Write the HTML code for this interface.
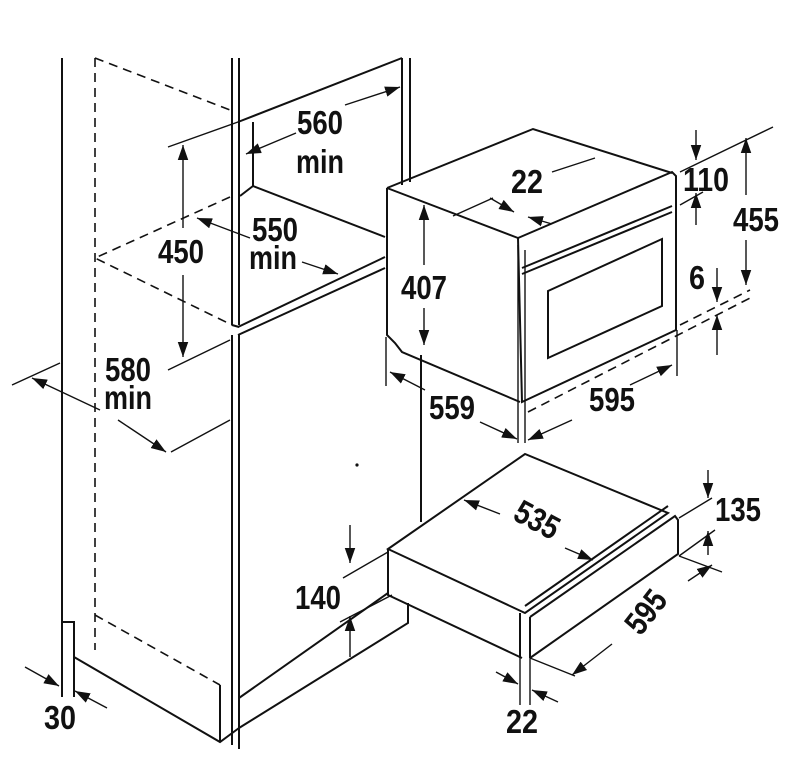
<!DOCTYPE html>
<html><head><meta charset="utf-8"><style>
html,body{margin:0;padding:0;background:#fff;}
svg{display:block;}
text{font-family:"Liberation Sans",sans-serif;font-weight:bold;font-size:33px;fill:#111;text-anchor:middle;}
</style></head><body>
<svg width="800" height="772" viewBox="0 0 800 772" xmlns="http://www.w3.org/2000/svg">
<defs>
<marker id="a" viewBox="0 0 10 10" refX="10" refY="5" markerWidth="15" markerHeight="15" markerUnits="userSpaceOnUse" orient="auto-start-reverse">
<path d="M0,1.5 L10,5 L0,8.5 Z" fill="#111"/></marker>
</defs>
<g stroke="#111" fill="none" stroke-width="2">
<path d="M62,58 V622 H74 V697"/>
<path d="M62,622 V697"/>
<path d="M74,657 L220,742 L239,728"/>
<path d="M220,685 V742"/>
<path d="M232,58 V325 M239,58 V120 M239,335 V749 M232,335 V745"/>
<path d="M239,120 V325" />
<path d="M232,325 L239,327"/>
<path d="M238,122 L402,58"/>
<path d="M253,122 V186 L385,237"/>
<path d="M253,186 L240,196"/>
<path d="M238,327 L385,257 M238,335 L385,268"/>
<path d="M402,58 V185 M410,58 V182"/>
<path d="M421,355 V522"/>
<path d="M239,698 L388,593 M239,728 L408,623 V603"/>
<path d="M387,188 L533,129 L672,173 M387,188 L518,238 M387,188 V335 L395,343 L402,352 L520,402"/>
<path d="M518,238 L672,172 L676,176 L676,330 L522,402 Z"/>
<path d="M522,268 L672,206 M522,274 L672,212"/>
<path d="M548,291 L662,239 V306 L548,358 Z"/>
<path d="M388,549 L525,454 L668,513 L525,613 Z"/>
<path d="M525,606 L668,506 M530,617 L675,516 L678,520 V554 L530,658"/>
<path d="M388,549 V595 L522,658 M520,613 V658 M530,617 V658"/>
</g>
<g stroke="#111" fill="none" stroke-width="1.6" stroke-dasharray="9,6">
<path d="M95,58 V650"/>
<path d="M95,58 L230,110"/>
<path d="M230,197 L95,258 L232,325"/>
<path d="M95,615 L220,685"/>
<path d="M680,325 L750,290 M528,412 L752,297"/>
</g>
<g stroke="#111" fill="none" stroke-width="1.4">
<path d="M238,122 L168,147 M168,370 L230,340 M12,385 L60,363 M171,452 L230,420"/>
<path d="M680,172 L773,127 M680,205 L703,192 M386,337 V386 M677,330 V376"/>
<path d="M518,245 V443 M525,250 V443"/>
<path d="M343,578 L388,552 M340,622 L392,595"/>
<path d="M679,518 L712,498 M679,556 L715,530 M679,556 L722,572 M530,658 L575,676"/>
<path d="M520,658 V705 M530,658 V705"/>
<path d="M183,228 V145" marker-end="url(#a)"/>
<path d="M183,275 V357" marker-end="url(#a)"/>
<path d="M296,133 L246,154" marker-end="url(#a)"/>
<path d="M345,105 L400,87" marker-end="url(#a)"/>
<path d="M250,238 L197,218" marker-end="url(#a)"/>
<path d="M302,262 L338,274" marker-end="url(#a)"/>
<path d="M100,410 L32,378" marker-end="url(#a)"/>
<path d="M118,420 L166,452" marker-end="url(#a)"/>
<path d="M424,265 V205" marker-end="url(#a)"/>
<path d="M424,308 V345" marker-end="url(#a)"/>
<path d="M493,198 L453,216 M552,172 L595,158"/>
<path d="M490,198 L514,212" marker-end="url(#a)"/>
<path d="M552,224 L528,217" marker-end="url(#a)"/>
<path d="M696,130 V160" marker-end="url(#a)"/>
<path d="M696,225 V193" marker-end="url(#a)"/>
<path d="M746,195 V138" marker-end="url(#a)"/>
<path d="M746,240 V285" marker-end="url(#a)"/>
<path d="M717,268 V302" marker-end="url(#a)"/>
<path d="M717,355 V315" marker-end="url(#a)"/>
<path d="M425,390 L390,372" marker-end="url(#a)"/>
<path d="M480,422 L517,439" marker-end="url(#a)"/>
<path d="M572,420 L528,440" marker-end="url(#a)"/>
<path d="M630,385 L672,365" marker-end="url(#a)"/>
<path d="M350,525 V563" marker-end="url(#a)"/>
<path d="M350,657 V616" marker-end="url(#a)"/>
<path d="M500,514 L464,500" marker-end="url(#a)"/>
<path d="M565,548 L593,560" marker-end="url(#a)"/>
<path d="M688,581 L712,565" marker-end="url(#a)"/>
<path d="M708,470 V498" marker-end="url(#a)"/>
<path d="M708,555 V531" marker-end="url(#a)"/>
<path d="M612,644 L572,675" marker-end="url(#a)"/>
<path d="M496,672 L518,684" marker-end="url(#a)"/>
<path d="M558,702 L532,690" marker-end="url(#a)"/>
<path d="M25,667 L59,686" marker-end="url(#a)"/>
<path d="M107,708 L75,691" marker-end="url(#a)"/>
</g>
<circle cx="357" cy="465" r="1.6" fill="#111"/>
<g>
<text x="320" y="134" textLength="46" lengthAdjust="spacingAndGlyphs">560</text>
<text x="320" y="173" textLength="48" lengthAdjust="spacingAndGlyphs">min</text>
<text x="181" y="263" textLength="46" lengthAdjust="spacingAndGlyphs">450</text>
<text x="275" y="241" textLength="46" lengthAdjust="spacingAndGlyphs">550</text>
<text x="273" y="269" textLength="48" lengthAdjust="spacingAndGlyphs">min</text>
<text x="128" y="381" textLength="46" lengthAdjust="spacingAndGlyphs">580</text>
<text x="128" y="409" textLength="48" lengthAdjust="spacingAndGlyphs">min</text>
<text x="527" y="193" textLength="32" lengthAdjust="spacingAndGlyphs">22</text>
<text x="706" y="191" textLength="46" lengthAdjust="spacingAndGlyphs">110</text>
<text x="756" y="231" textLength="46" lengthAdjust="spacingAndGlyphs">455</text>
<text x="697" y="289" textLength="16" lengthAdjust="spacingAndGlyphs">6</text>
<text x="424" y="299" textLength="46" lengthAdjust="spacingAndGlyphs">407</text>
<text x="452" y="419" textLength="46" lengthAdjust="spacingAndGlyphs">559</text>
<text x="612" y="411" textLength="46" lengthAdjust="spacingAndGlyphs">595</text>
<text x="537" y="531" textLength="46" lengthAdjust="spacingAndGlyphs" transform="rotate(28 537 520)">535</text>
<text x="738" y="521" textLength="46" lengthAdjust="spacingAndGlyphs">135</text>
<text x="318" y="609" textLength="46" lengthAdjust="spacingAndGlyphs">140</text>
<text x="646" y="623" textLength="46" lengthAdjust="spacingAndGlyphs" transform="rotate(-52 646 612)">595</text>
<text x="522" y="733" textLength="32" lengthAdjust="spacingAndGlyphs">22</text>
<text x="60" y="729" textLength="32" lengthAdjust="spacingAndGlyphs">30</text>
</g>
</svg>
</body></html>
